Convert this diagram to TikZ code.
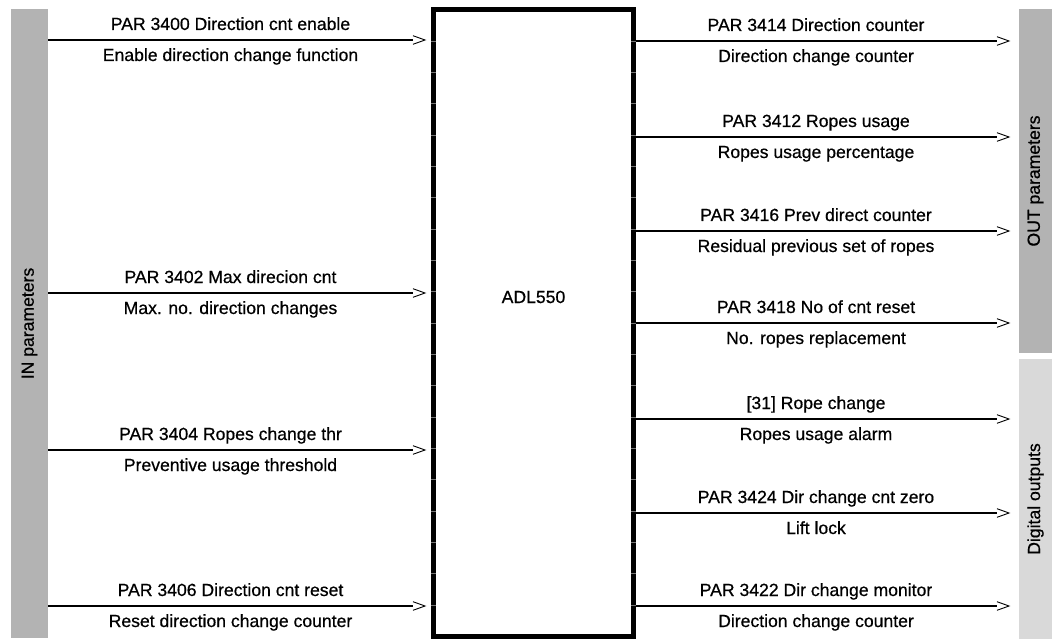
\documentclass[tikz,border=0pt]{standalone}
\usepackage{fontspec}
\setmainfont{Liberation Sans}[FakeBold=0.6]
\definecolor{bardark}{HTML}{B3B3B3}
\definecolor{barlight}{HTML}{D9D9D9}
\begin{document}
\begin{tikzpicture}[x=1pt,y=-1pt,
  font=\fontsize{17.6}{20}\selectfont,
  bar/.style={fill=bardark, draw=none, inner sep=0pt, outer sep=0pt},
  wire/.style={line width=2pt},
  chev/.style={line width=0.9pt, line join=miter},
  lab/.style={anchor=base, inner sep=0pt},
  pintick/.style={draw=black!55, line width=0.4pt},
  chevron/.pic={\draw[chev] (0,-4.3) -- (12,0) -- (0,4.3);}]
\useasboundingbox (0,0) rectangle (1052,639);
% side bars
\node[bar, minimum width=37pt, minimum height=629pt] (inbar) at (29.5,323.5) {};
\node[rotate=90] (intext) at (inbar.center) {IN parameters};
\node[bar, minimum width=33pt, minimum height=344pt] (outbar) at (1035.5,181) {};
\node[rotate=90] (outtext) at (outbar.center) {OUT parameters};
\node[bar, fill=barlight, minimum width=33pt, minimum height=280pt] (digbar) at (1035.5,499) {};
\node[rotate=90] (digtext) at (digbar.center) {Digital outputs};
% central block
\node[draw, line width=5pt, minimum width=200pt, minimum height=627pt, inner sep=0pt] (adl) at (533.5,323) {};
\foreach \k in {0,...,18}{
  \draw[pintick] (431,{41+\k*31.33}) -- (436,{41+\k*31.33});
  \draw[pintick] (631,{41+\k*31.33}) -- (636,{41+\k*31.33});
}
\node (adltext) at (533.5,297) {ADL550};
% inputs
\foreach \y/\a/\b [count=\i] in {
  40/{PAR 3400 Direction cnt enable}/{Enable direction change function},
  293/{PAR 3402 Max direcion cnt}/{Max. no. direction changes},
  450/{PAR 3404 Ropes change thr}/{Preventive usage threshold},
  606/{PAR 3406 Direction cnt reset}/{Reset direction change counter}}{
  \coordinate (pi\i) at (413,\y);
  \draw[wire] (inbar.east |- pi\i) -- (pi\i);
  \pic at (pi\i) {chevron};
  \node[lab] (ia\i) at (230.5,\y-10) {\a};
  \node[lab] (ib\i) at (230.5,\y+21) {\b};
}
% outputs
\foreach \y/\a/\b [count=\i] in {
  41/{PAR 3414 Direction counter}/{Direction change counter},
  137/{PAR 3412 Ropes usage}/{Ropes usage percentage},
  231/{PAR 3416 Prev direct counter}/{Residual previous set of ropes},
  323/{PAR 3418 No of cnt reset}/{No. ropes replacement},
  419/{[31] Rope change}/{Ropes usage alarm},
  513/{PAR 3424 Dir change cnt zero}/{Lift lock},
  606/{PAR 3422 Dir change monitor}/{Direction change counter}}{
  \coordinate (po\i) at (997,\y);
  \draw[wire] (adl.east |- po\i) -- (po\i);
  \pic at (po\i) {chevron};
  \node[lab] (oa\i) at (816,\y-10) {\a};
  \node[lab] (ob\i) at (816,\y+21) {\b};
}
\end{tikzpicture}
\end{document}
